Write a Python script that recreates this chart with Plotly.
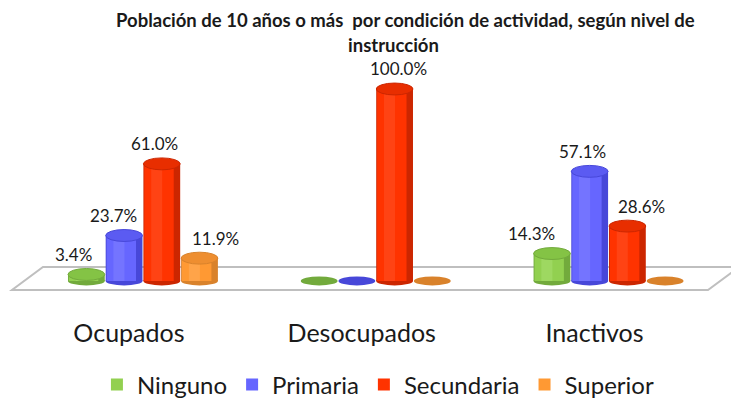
import plotly.graph_objects as go

# ---- data -------------------------------------------------------------
categories = ["Ocupados", "Desocupados", "Inactivos"]
series_names = ["Ninguno", "Primaria", "Secundaria", "Superior"]
ninguno = [3.4, 0.0, 14.3]
primaria = [23.7, 0.0, 57.1]
secundaria = [61.0, 100.0, 28.6]
superior = [11.9, 0.0, 0.0]
series_values = [ninguno, primaria, secundaria, superior]

title_lines = ["Población de 10 años o más  por condición de actividad, según nivel de",
               "instrucción"]

# ---- styling ----------------------------------------------------------
body = ["#92d050", "#6666ff", "#ff3300", "#ff9933"]
shade = ["#72aa3c", "#4747d9", "#cc2600", "#d9822b"]
cap = ["#84c345", "#5b5bf2", "#e82e00", "#ee8e30"]
light = ["#a4dc68", "#7a7aff", "#ff4a1c", "#ffa852"]

# horizontal nudges (px) for the value labels, per category / series
label_dx = [[-13, -11, -7, 16], [0, 0, 4, 0], [-20, -7, 14, 0]]

FONT = "Lato"
TEXT = "#1a1a1a"
W, H = 731, 401
M_T, M_B = 60, 101
STEP = 0.162          # distance between bar centres in a group
BAR_W = 0.158         # bar width (x units)
CAP_HALF = 3.1        # half height of the top ellipse (y units)
BASE_HALF = 2.3       # half height of the bottom ellipse (y units)

fig = go.Figure()
shapes = []
annotations = []

plot_h = H - M_T - M_B
def to_paper(px, py):
    return px / W, (H - M_B - py) / plot_h

# floor of the chart (a slanted plane, drawn in paper units)
floor_px = [(43, 267), (739, 267), (708, 290), (12, 290)]
pts = [to_paper(*p) for p in floor_px]
path = "M " + " L ".join(f"{x:.4f},{y:.4f}" for x, y in pts) + " Z"
shapes.append(dict(type="path", xref="paper", yref="paper", path=path,
                   fillcolor="white", line=dict(color="#bfbfbf", width=2),
                   layer="below"))

for k, (name, vals) in enumerate(zip(series_names, series_values)):
    xs = [i + (k - 1.5) * STEP for i in range(len(categories))]
    # cylinder body: dark edge, main colour, soft highlight
    fig.add_trace(go.Bar(x=xs, y=vals, width=BAR_W, marker_color=shade[k],
                         marker_line_width=0, showlegend=False,
                         legendgroup=name, hoverinfo="skip"))
    fig.add_trace(go.Bar(x=[x - 0.012 for x in xs], y=vals, width=BAR_W * 0.8,
                         marker_color=body[k], marker_line_width=0,
                         name=name, legendgroup=name, showlegend=True))
    fig.add_trace(go.Bar(x=[x - 0.022 for x in xs], y=vals, width=BAR_W * 0.3,
                         marker_color=light[k], marker_line_width=0,
                         opacity=0.7, showlegend=False, legendgroup=name,
                         hoverinfo="skip"))
    for i, (x, v) in enumerate(zip(xs, vals)):
        x0, x1 = x - BAR_W / 2, x + BAR_W / 2
        if v > 0:
            shapes.append(dict(type="circle", xref="x", yref="y",
                               x0=x0, x1=x1, y0=-BASE_HALF, y1=BASE_HALF,
                               fillcolor=shade[k], line=dict(width=0),
                               layer="below"))
            shapes.append(dict(type="circle", xref="x", yref="y",
                               x0=x0, x1=x1, y0=v - CAP_HALF, y1=v + CAP_HALF,
                               fillcolor=cap[k],
                               line=dict(color=shade[k], width=1),
                               layer="above"))
            annotations.append(dict(x=x, y=v, xref="x", yref="y",
                                    text=f"{v:.1f}%", showarrow=False,
                                    yanchor="middle", yshift=20,
                                    xshift=label_dx[i][k],
                                    font=dict(family=FONT, size=17, color=TEXT)))
        else:
            shapes.append(dict(type="circle", xref="x", yref="y",
                               x0=x0, x1=x1, y0=-BASE_HALF, y1=BASE_HALF,
                               fillcolor=shade[k], line=dict(width=0),
                               layer="above"))

# two-line bold heading
for (cx, cy), line in zip([(405, 20), (393, 45)], title_lines):
    px, py = to_paper(cx, cy)
    annotations.append(dict(x=px, y=py, xref="paper", yref="paper",
                            text=f"<b>{line}</b>", showarrow=False,
                            xanchor="center", yanchor="middle",
                            font=dict(family=FONT, size=18.5, color=TEXT)))

fig.update_layout(
    width=W, height=H,
    margin=dict(l=0, r=0, t=M_T, b=M_B),
    paper_bgcolor="white", plot_bgcolor="white",
    barmode="overlay",
    xaxis=dict(range=[-0.614, 2.526], tickvals=list(range(len(categories))),
               ticktext=categories, showgrid=False, zeroline=False,
               showline=False, ticks="", ticklabelstandoff=16,
               ticklabelshift=-14,
               tickfont=dict(family=FONT, size=25, color=TEXT)),
    yaxis=dict(range=[-9.9, 115.1], visible=False),
    legend=dict(orientation="h", x=0.517, xanchor="center",
                yref="container", y=1 - 385 / H, yanchor="middle",
                font=dict(family=FONT, size=24, color=TEXT),
                traceorder="normal"),
    shapes=shapes,
    annotations=annotations,
    showlegend=True,
)

fig.write_html("out.html")
